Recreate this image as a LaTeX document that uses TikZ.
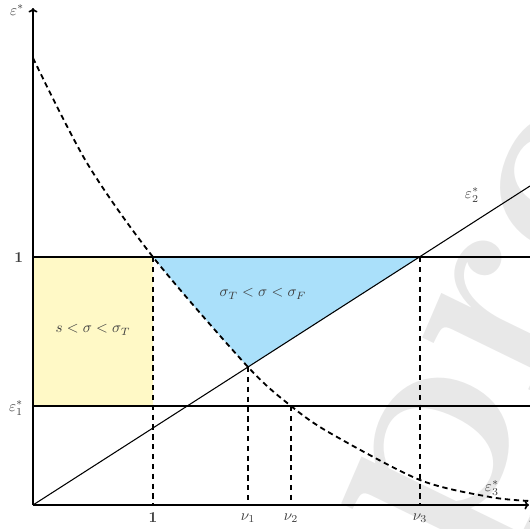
\documentclass[tikz,border=0pt]{standalone}
\usepackage{amsmath}
\usetikzlibrary{arrows.meta}
\definecolor{yel}{RGB}{255,249,198}
\definecolor{blu}{RGB}{170,224,250}
\definecolor{lbl}{RGB}{60,60,60}
\begin{document}
\begin{tikzpicture}[x=0.66pt,y=-0.66pt,
  axis/.style={line width=1.1pt,-{To[length=3pt,width=6pt]}},
  hline/.style={line width=0.7pt},
  vdash/.style={line width=0.7pt,dash pattern=on 3.5pt off 3pt},
  curve/.style={line width=1.2pt,dash pattern=on 3.5pt off 2.5pt},
  lab/.style={text=lbl,inner sep=1pt}]
\useasboundingbox (0,0) rectangle (530,529);
\def\curvepts{(33,58) (87,163) (153,257) (248,367) (291,406) (330,433) (420,480) (490,497) (530,501)}
% watermark
\node[rotate=64,text=gray!18,font=\fontsize{195}{195}\selectfont\bfseries,anchor=base west] (wm) at (452,575) {preprint};
% points
\coordinate (O) at (33,505);
\coordinate (Ytop) at (33,8);
\coordinate (Xend) at (529,505);
\coordinate (A1) at (33,257);
\coordinate (B1) at (530,257);
\coordinate (A2) at (33,406);
\coordinate (B2) at (530,406);
\coordinate (P1) at (153,257);
\coordinate (P1b) at (153,505);
\coordinate (Q1) at (248,367);
\coordinate (Q1b) at (248,505);
\coordinate (Q2) at (291,406);
\coordinate (Q2b) at (291,505);
\coordinate (Q3) at (420,257);
\coordinate (Q3b) at (420,505);
\coordinate (Lend) at (530,186);
\coordinate (Y1) at (153,406);
% fills
\fill[yel] (A1) rectangle (Y1);
\begin{scope}
  \clip (A1) -- (Q3) -- (O) -- cycle;
  \fill[blu] plot[smooth] coordinates {\curvepts} -- (530,0) -- (33,0) -- cycle;
\end{scope}
% lines
\draw[hline] (A1) -- (B1);
\draw[hline] (A2) -- (B2);
\draw[hline] (O) -- (Lend);
\draw[vdash] (P1) -- (P1b);
\draw[vdash] (Q1) -- (Q1b);
\draw[vdash] (Q2) -- (Q2b);
\draw[vdash] (Q3) -- (Q3b);
\draw[curve] plot[smooth] coordinates {\curvepts};
\draw[axis] (O) -- (Ytop);
\draw[axis] (O) -- (Xend);
% labels
\node[lab,anchor=east] (ly) at (26,10) {$\varepsilon^*$};
\node[lab,anchor=east] (l1y) at (25,258) {$\mathbf{1}$};
\node[lab,anchor=east] (le1) at (25,408) {$\varepsilon_1^*$};
\node[lab] (l1x) at (153,518) {$\mathbf{1}$};
\node[lab] (ln1) at (248,518) {$\nu_1$};
\node[lab] (ln2) at (291,518) {$\nu_2$};
\node[lab] (ln3) at (420,518) {$\nu_3$};
\node[lab] (lnu) at (533,519) {$\nu$};
\node[lab] (le2) at (472,195) {$\varepsilon_2^*$};
\node[lab] (le3) at (492,488) {$\varepsilon_3^*$};
\node[lab] (ls) at (93,330) {$s<\sigma<\sigma_T$};
\node[lab] (lt) at (263,294) {$\sigma_T<\sigma<\sigma_F$};
\end{tikzpicture}
\end{document}
